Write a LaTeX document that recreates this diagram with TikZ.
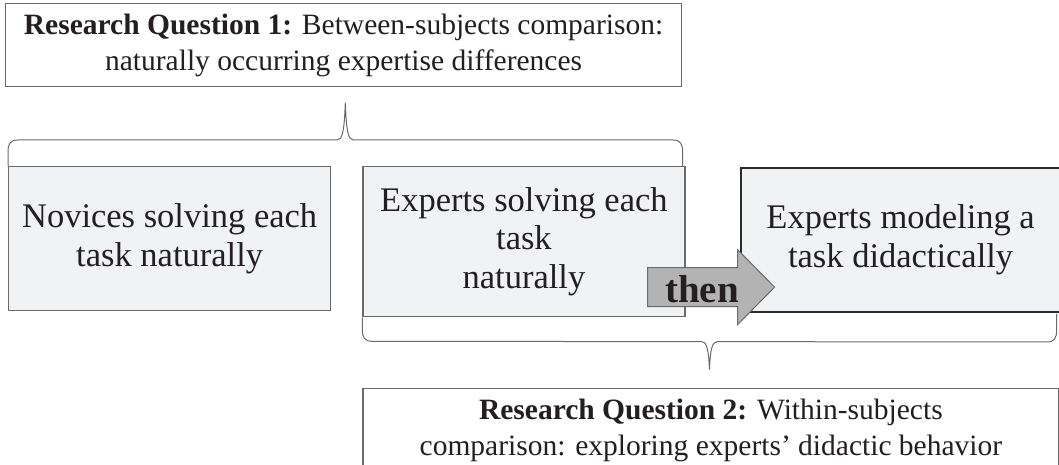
\documentclass[tikz,border=0pt]{standalone}
\usepackage{fontspec}
\setmainfont{Liberation Serif}
\usepackage{xcolor}
\definecolor{grisborde}{HTML}{6A6A6A}
\definecolor{grisoscuro}{HTML}{2A2A2A}
\definecolor{grisclaro}{HTML}{F1F2F4}
\definecolor{grisflecha}{HTML}{B3B3B3}
\definecolor{tinta}{HTML}{231F20}
\usetikzlibrary{calc, positioning}

\begin{document}
\begin{tikzpicture}[
  x=1pt, y=1pt,
  qbox/.style={
    rectangle, draw=grisborde, line width=1.2pt, fill=white,
    text=tinta, font=\fontsize{29.5}{36}\selectfont, align=center,
    inner sep=0pt, minimum width=676pt, minimum height=83pt
  },
  taskbox/.style={
    rectangle, draw=grisborde, line width=1.3pt, fill=grisclaro,
    text=tinta, font=\fontsize{34.5}{38.5}\selectfont, align=center,
    inner sep=0pt, minimum width=322pt, minimum height=144pt
  },
  brc/.style={draw=grisborde, line width=1pt},
  thenarrow/.style={draw=grisborde, line width=1pt, fill=grisflecha}
]
  \useasboundingbox (0,0) rectangle (1059,465);

  % preguntas y condiciones
  \node[qbox, anchor=north west] (rq1) at (5,462)
    {\textbf{Research Question 1:} Between-subjects comparison:\\
     naturally occurring expertise differences};
  \node[taskbox, anchor=north west] (nov) at (8,299)
    {Novices solving each\\task naturally};
  \node[taskbox, minimum height=150pt, right=31pt of nov.north east,
        anchor=north west] (exp) {Experts solving each\\task\\naturally};
  \node[taskbox, draw=grisoscuro, line width=2pt, minimum width=320pt,
        right=54pt of exp.north east, anchor=north west, yshift=-1pt] (mod)
    {Experts modeling a\\task didactically};
  \node[qbox, minimum width=696pt, below=71pt of exp.south west,
        anchor=north west] (rq2)
    {\textbf{Research Question 2:} Within-subjects\\
     comparison: exploring experts' didactic behavior};

  % llave superior
  \coordinate (b1a) at (nov.north west);
  \coordinate (b1b) at ($(exp.north east)+(-3,0)$);
  \coordinate (b1t) at ($(b1a)!0.5!(b1b)+(0,63)$);
  \draw[brc] (b1a) -- ++(0,14) .. controls +(0,8) and +(-8,0) .. ++(10,12)
    -- ($(b1t)+(-8,-37)$) .. controls +(5,0) and +(-1,-28) .. (b1t)
    .. controls +(1,-28) and +(-5,0) .. ($(b1t)+(8,-37)$)
    -- ($(b1b)+(-10,26)$) .. controls +(8,0) and +(0,8) .. ++(10,-12)
    -- (b1b);

  % llave inferior
  \coordinate (b2a) at (exp.south west);
  \coordinate (b2b) at ($(mod.south east)+(-5,-1)$);
  \coordinate (b2t) at ($(b2a)!0.5!(b2b)+(0,-54)$);
  \draw[brc] (b2a) -- ++(0,-12) .. controls +(0,-8) and +(-8,0) .. ++(10,-12)
    -- ($(b2t)+(-8,28)$) .. controls +(5,0) and +(-1,22) .. (b2t)
    .. controls +(1,22) and +(-5,0) .. ($(b2t)+(8,28)$)
    -- ($(b2b)+(-10,-28)$) .. controls +(8,0) and +(0,-8) .. ++(10,12)
    -- (b2b);

  % flecha "then"
  \coordinate (cola) at ($(exp.east)+(-38,-45.5)$);
  \draw[thenarrow] (cola) ++(0,19.5) -- ++(90,0) -- ++(0,18)
    -- ++(37,-37.5) -- ++(-37,-37.5) -- ++(0,18) -- ++(-90,0) -- cycle;
  \node[text=tinta, font=\bfseries\fontsize{39}{39}\selectfont,
        anchor=base, inner sep=0pt] (then) at ($(cola)+(54.5,-15.5)$) {then};
\end{tikzpicture}
\end{document}
